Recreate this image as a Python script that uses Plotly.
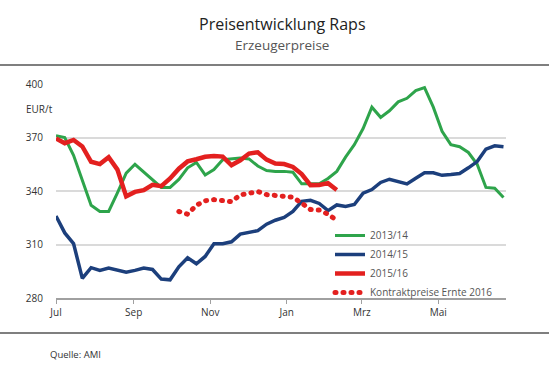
import pandas as pd
import plotly.graph_objects as go

# ---------------- data (weekly, EUR/t) ----------------
season_start = "2015-07-01"
n_weeks = 52

raps_2013_14 = [371, 370, 360, 346, 332, 328.5, 328.5, 339, 350, 355,
                350.5, 346, 342, 342, 346.5, 353, 356, 349, 352, 357.5,
                358, 358.5, 358, 354, 351.5, 351, 351, 350.5, 344, 344,
                344, 347, 351, 359, 366, 375, 387, 381.3, 385, 390,
                392, 396.3, 398, 387, 373.5, 366, 364.8, 361.6, 355, 342,
                341.6, 336.4]

raps_2014_15 = [326, 316.5, 310.5, 291, 297, 295.5, 296.8, 295.5, 294.5, 295.5,
                296.8, 296, 290.6, 290.2, 297.5, 302.5, 299.2, 303.3, 310.4, 310.4,
                311.5, 315.8, 316.6, 317.8, 321.4, 323.6, 325.2, 328.5, 334.2, 334.8,
                333, 329, 332.2, 331.3, 332.4, 338.8, 340.8, 344.8, 346.6, 345.1,
                344, 347.2, 350.2, 350.2, 348.8, 349.2, 349.8, 353, 356.5, 363.5,
                365.3, 364.8]

raps_2015_16 = [369.4, 366.8, 368.6, 365, 356.4, 355.1, 359, 352, 337, 339.5,
                340.5, 343.5, 342.7, 347, 352.5, 356.6, 357.8, 359.2, 359.6, 359.3,
                354.4, 357.2, 361, 361.7, 357.6, 355.4, 355.1, 353.5, 349.5, 343.3,
                343.4, 344.4, 340.6]

kontrakt_start_week = 14
kontrakt_2016 = [328.5, 327, 332, 334.5, 335.2, 334.5, 334, 337.8, 338.8, 339.7,
                 338, 337.4, 337.4, 336.5, 333.2, 329.6, 329.3, 327, 323.5]

series_names = ["2013/14", "2014/15", "2015/16", "Kontraktpreise Ernte 2016"]

tick_dates = ["2015-07-01", "2015-09-01", "2015-11-01", "2016-01-01", "2016-03-01", "2016-05-01"]
tick_labels = ["Jul", "Sep", "Nov", "Jan", "Mrz", "Mai"]
y_ticks = [280, 310, 340, 370, 400]

# ---------------- figure ----------------
weeks = pd.date_range(season_start, periods=n_weeks, freq="7D")

GREEN = "#2ea44b"
BLUE = "#1c3f7c"
RED = "#e3201f"
FONT = "Open Sans"

fig = go.Figure()
fig.add_trace(go.Scatter(x=weeks[:len(raps_2013_14)], y=raps_2013_14, mode="lines",
                         name=series_names[0], line=dict(color=GREEN, width=3)))
fig.add_trace(go.Scatter(x=weeks[:len(raps_2014_15)], y=raps_2014_15, mode="lines",
                         name=series_names[1], line=dict(color=BLUE, width=3.5)))
fig.add_trace(go.Scatter(x=weeks[:len(raps_2015_16)], y=raps_2015_16, mode="lines",
                         name=series_names[2], line=dict(color=RED, width=4.5)))
fig.add_trace(go.Scatter(x=weeks[kontrakt_start_week:kontrakt_start_week + len(kontrakt_2016)],
                         y=kontrakt_2016, mode="lines", name=series_names[3],
                         line=dict(color=RED, width=5, dash="1px,7px")))

W, H = 549, 376
L, R, T, B = 56, 43, 84, 78
pw, ph = W - L - R, H - T - B


def px_x(px):
    return (px - L) / pw


def px_y(py):
    return 1 - (py - T) / ph


fig.update_layout(
    width=W, height=H,
    margin=dict(l=L, r=R, t=T, b=B),
    paper_bgcolor="white", plot_bgcolor="white",
    font=dict(family=FONT, size=10, color="#333333"),
    showlegend=True,
    hovermode=False,
    legend=dict(x=px_x(330), y=px_y(221), xanchor="left", yanchor="top",
                bgcolor="rgba(0,0,0,0)", borderwidth=0,
                font=dict(family=FONT, size=10, color="#555555"),
                itemwidth=30, tracegroupgap=0),
    xaxis=dict(range=["2015-07-01", "2016-06-24"],
               tickmode="array", tickvals=tick_dates, ticktext=tick_labels,
               showgrid=False, zeroline=False,
               showline=True, linecolor="#a0a0a0", linewidth=1.5,
               ticks="outside", ticklen=4, tickcolor="#a0a0a0", tickwidth=1,
               tickfont=dict(family=FONT, size=10, color="#333333")),
    yaxis=dict(range=[280, 400], tickmode="array", tickvals=y_ticks,
               showgrid=True, gridcolor="#dadada", gridwidth=1.5,
               zeroline=False, showline=False,
               ticks="outside", ticklen=10, tickcolor="rgba(0,0,0,0)",
               tickfont=dict(family=FONT, size=10, color="#333333")),
)

fig.add_shape(type="line", xref="paper", yref="paper",
              x0=px_x(0), x1=px_x(W), y0=px_y(65), y1=px_y(65),
              line=dict(color="#555555", width=1.5))
fig.add_shape(type="line", xref="paper", yref="paper",
              x0=px_x(0), x1=px_x(W), y0=px_y(333), y1=px_y(333),
              line=dict(color="#555555", width=1.5))

fig.add_annotation(text="Preisentwicklung Raps", xref="paper", yref="paper",
                   x=px_x(282), y=px_y(24), xanchor="center", yanchor="middle",
                   showarrow=False, font=dict(family=FONT, size=16, color="#222222"))
fig.add_annotation(text="Erzeugerpreise", xref="paper", yref="paper",
                   x=px_x(282), y=px_y(45.5), xanchor="center", yanchor="middle",
                   showarrow=False, font=dict(family=FONT, size=13.5, color="#555555"))
fig.add_annotation(text="EUR/t", xref="paper", yref="paper",
                   x=px_x(24), y=px_y(109), xanchor="left", yanchor="middle",
                   showarrow=False, font=dict(family=FONT, size=10, color="#333333"))
fig.add_annotation(text="Quelle: AMI", xref="paper", yref="paper",
                   x=px_x(48), y=px_y(354), xanchor="left", yanchor="middle",
                   showarrow=False, font=dict(family=FONT, size=9.5, color="#333333"))

post = """
document.body.style.margin = '0';
document.body.style.padding = '0';
var gd = document.getElementById('{plot_id}');
function roundDots(){
  gd.querySelectorAll('path.js-line').forEach(function(p){
    var d = p.style.strokeDasharray;
    if (d && d !== 'none' && d !== '') { p.style.strokeLinecap = 'round'; }
  });
}
roundDots();
if (gd.on) { gd.on('plotly_afterplot', roundDots); }
"""

fig.write_html("out.html", post_script=post,
               config={"displayModeBar": False, "staticPlot": False})
